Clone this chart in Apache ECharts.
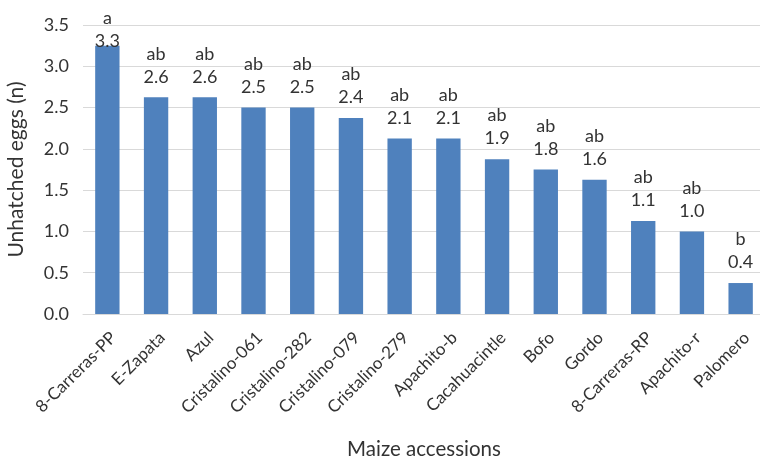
<!DOCTYPE html>
<html>
<head>
<meta charset="utf-8">
<script src="https://cdn.jsdelivr.net/npm/echarts@6/dist/echarts.min.js"></script>
<style>
  html, body { margin: 0; padding: 0; background: #ffffff; }
  #chart { width: 760px; height: 457px; }
</style>
</head>
<body>
<div id="chart"></div>
<script>
// Maize accessions, sorted by mean number of unhatched eggs
const accessions = [
  '8-Carreras-PP', 'E-Zapata', 'Azul', 'Cristalino-061', 'Cristalino-282',
  'Cristalino-079', 'Cristalino-279', 'Apachito-b', 'Cacahuacintle', 'Bofo',
  'Gordo', '8-Carreras-RP', 'Apachito-r', 'Palomero'
];
// Mean unhatched eggs per accession
const unhatchedEggs = [3.25, 2.625, 2.625, 2.5, 2.5, 2.375, 2.125, 2.125, 1.875, 1.75, 1.625, 1.125, 1.0, 0.375];
// Mean-separation letters
const groupLetters = ['a', 'ab', 'ab', 'ab', 'ab', 'ab', 'ab', 'ab', 'ab', 'ab', 'ab', 'ab', 'ab', 'b'];
// Y axis ticks
const yTicks = { min: 0, max: 3.5, step: 0.5 };

const FONT = 'Lato, "Liberation Sans", sans-serif';
const TEXT = '#333333';

const chart = echarts.init(document.getElementById('chart'), null, { renderer: 'canvas' });

const barData = unhatchedEggs.map((v, i) => {
  const item = { value: v };
  // the tallest bar's label is pushed down so it stays on the canvas
  if (i === 0) item.label = { offset: [0, 16] };
  return item;
});

chart.setOption({
  animation: false,
  backgroundColor: '#ffffff',
  textStyle: { fontFamily: FONT },
  grid: { left: 83, top: 25, width: 682, height: 289, outerBoundsMode: 'none' },
  xAxis: {
    type: 'category',
    data: accessions,
    name: 'Maize accessions',
    nameLocation: 'middle',
    nameGap: 125,
    nameTextStyle: { fontFamily: FONT, fontSize: 20.5, color: TEXT },
    axisLine: { show: true, lineStyle: { color: '#d9d9d9', width: 1 } },
    axisTick: { show: false },
    axisLabel: {
      rotate: 45,
      interval: 0,
      margin: 15,
      verticalAlign: 'top',
      fontFamily: FONT,
      fontSize: 17,
      color: TEXT
    }
  },
  yAxis: {
    type: 'value',
    min: yTicks.min,
    max: yTicks.max,
    interval: yTicks.step,
    name: 'Unhatched eggs (n)',
    nameLocation: 'middle',
    nameGap: 56,
    nameTextStyle: { fontFamily: FONT, fontSize: 21, color: TEXT },
    axisLine: { show: false },
    axisTick: { show: false },
    splitLine: { show: true, lineStyle: { color: '#d9d9d9', width: 1 } },
    axisLabel: {
      margin: 14,
      fontFamily: FONT,
      fontSize: 18,
      color: TEXT,
      formatter: v => v.toFixed(1)
    }
  },
  series: [{
    type: 'bar',
    data: barData,
    barWidth: '50%',
    itemStyle: { color: '#4f81bd' },
    label: {
      show: true,
      position: 'top',
      distance: 9,
      formatter: p => '{l|' + groupLetters[p.dataIndex] + '}\n{v|' + p.value.toFixed(1) + '}',
      rich: {
        l: { fontFamily: FONT, fontSize: 18, color: TEXT, lineHeight: 23, align: 'center' },
        v: { fontFamily: FONT, fontSize: 18, color: TEXT, lineHeight: 23, align: 'center' }
      }
    }
  }]
});
</script>
</body>
</html>
